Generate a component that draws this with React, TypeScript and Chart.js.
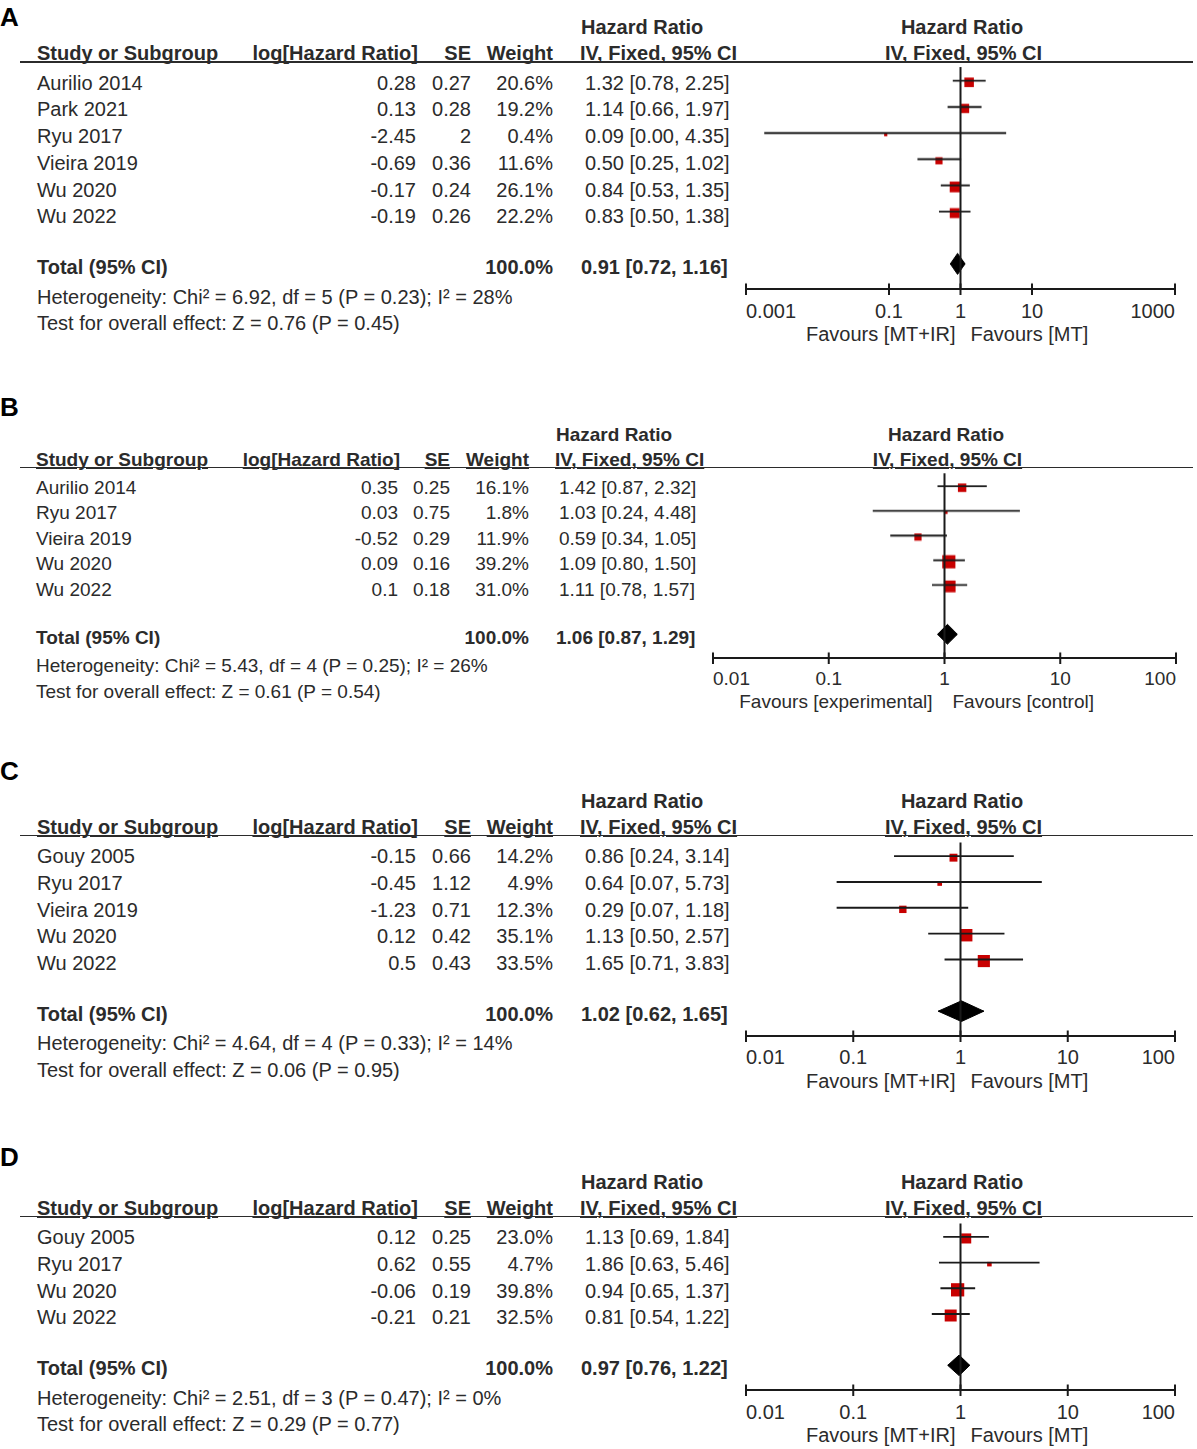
import React, { useEffect, useRef, useState } from "react";
import { Chart, registerables } from "chart.js";
Chart.register(...registerables);

const FONT = '"Liberation Sans", Arial, Helvetica, sans-serif';
const TXT = "#2b2b2b";
const LINE = "#1a1a1a";
const RED = "#c80000";

// ---------------- Panel A ----------------
const studiesA = ["Aurilio 2014", "Park 2021", "Ryu 2017", "Vieira 2019", "Wu 2020", "Wu 2022"];
const logHrA = [0.28, 0.13, -2.45, -0.69, -0.17, -0.19];
const seA = [0.27, 0.28, 2, 0.36, 0.24, 0.26];
const weightA = [20.6, 19.2, 0.4, 11.6, 26.1, 22.2];
const hrA = [1.32, 1.14, 0.09, 0.5, 0.84, 0.83];
const loA = [0.78, 0.66, 0.0018, 0.25, 0.53, 0.5];
const hiA = [2.25, 1.97, 4.35, 1.02, 1.35, 1.38];
const totalA = [0.91, 0.72, 1.16];
const hetA = "Heterogeneity: Chi² = 6.92, df = 5 (P = 0.23); I² = 28%";
const testA = "Test for overall effect: Z = 0.76 (P = 0.45)";
const ticksA = [0.001, 0.1, 1, 10, 1000];
const tickLabelsA = ["0.001", "0.1", "1", "10", "1000"];
const favoursA = ["Favours [MT+IR]", "Favours [MT]"];

// ---------------- Panel B ----------------
const studiesB = ["Aurilio 2014", "Ryu 2017", "Vieira 2019", "Wu 2020", "Wu 2022"];
const logHrB = [0.35, 0.03, -0.52, 0.09, 0.1];
const seB = [0.25, 0.75, 0.29, 0.16, 0.18];
const weightB = [16.1, 1.8, 11.9, 39.2, 31.0];
const hrB = [1.42, 1.03, 0.59, 1.09, 1.11];
const loB = [0.87, 0.24, 0.34, 0.8, 0.78];
const hiB = [2.32, 4.48, 1.05, 1.5, 1.57];
const totalB = [1.06, 0.87, 1.29];
const hetB = "Heterogeneity: Chi² = 5.43, df = 4 (P = 0.25); I² = 26%";
const testB = "Test for overall effect: Z = 0.61 (P = 0.54)";
const ticksB = [0.01, 0.1, 1, 10, 100];
const tickLabelsB = ["0.01", "0.1", "1", "10", "100"];
const favoursB = ["Favours [experimental]", "Favours [control]"];

// ---------------- Panel C ----------------
const studiesC = ["Gouy 2005", "Ryu 2017", "Vieira 2019", "Wu 2020", "Wu 2022"];
const logHrC = [-0.15, -0.45, -1.23, 0.12, 0.5];
const seC = [0.66, 1.12, 0.71, 0.42, 0.43];
const weightC = [14.2, 4.9, 12.3, 35.1, 33.5];
const hrC = [0.86, 0.64, 0.29, 1.13, 1.65];
const loC = [0.24, 0.07, 0.07, 0.5, 0.71];
const hiC = [3.14, 5.73, 1.18, 2.57, 3.83];
const totalC = [1.02, 0.62, 1.65];
const hetC = "Heterogeneity: Chi² = 4.64, df = 4 (P = 0.33); I² = 14%";
const testC = "Test for overall effect: Z = 0.06 (P = 0.95)";
const ticksC = [0.01, 0.1, 1, 10, 100];
const tickLabelsC = ["0.01", "0.1", "1", "10", "100"];
const favoursC = ["Favours [MT+IR]", "Favours [MT]"];

// ---------------- Panel D ----------------
const studiesD = ["Gouy 2005", "Ryu 2017", "Wu 2020", "Wu 2022"];
const logHrD = [0.12, 0.62, -0.06, -0.21];
const seD = [0.25, 0.55, 0.19, 0.21];
const weightD = [23.0, 4.7, 39.8, 32.5];
const hrD = [1.13, 1.86, 0.94, 0.81];
const loD = [0.69, 0.63, 0.65, 0.54];
const hiD = [1.84, 5.46, 1.37, 1.22];
const totalD = [0.97, 0.76, 1.22];
const hetD = "Heterogeneity: Chi² = 2.51, df = 3 (P = 0.47); I² = 0%";
const testD = "Test for overall effect: Z = 0.29 (P = 0.77)";
const ticksD = [0.01, 0.1, 1, 10, 100];
const tickLabelsD = ["0.01", "0.1", "1", "10", "100"];
const favoursD = ["Favours [MT+IR]", "Favours [MT]"];

// ---------------- layout (positions / styles only) ----------------
type Layout = {
  study: number; logHr: number; se: number; weight: number; ci: number; ciBold: number; ciHead: number;
  axisL: number; axisR: number; favGapL: number; favGapR: number; lineL: number; lineR: number;
  fs: number; rowH: number;
};
const layoutACD: Layout = {
  study: 37, logHr: 416, se: 471, weight: 553, ci: 585, ciBold: 581, ciHead: 580,
  axisL: 746, axisR: 1175, favGapL: 5, favGapR: 10, lineL: 20, lineR: 1193, fs: 20, rowH: 26.75,
};
const layoutB: Layout = {
  study: 36, logHr: 398, se: 450, weight: 529, ci: 559, ciBold: 556, ciHead: 555,
  axisL: 713, axisR: 1176, favGapL: 12, favGapR: 8, lineL: 20, lineR: 1193, fs: 19, rowH: 25.5,
};

function T(props: { x: number; y: number; fs: number; text: string; align?: "left" | "right" | "center"; bold?: boolean; color?: string; underline?: boolean }) {
  const { x, y, fs, text, align = "left", bold = false, color = TXT, underline = false } = props;
  const tx = align === "right" ? "translateX(-100%)" : align === "center" ? "translateX(-50%)" : undefined;
  return (
    <div
      style={{
        position: "absolute",
        left: x,
        top: y - 0.4885 * fs,
        fontSize: fs,
        lineHeight: fs + "px",
        fontWeight: bold ? 700 : 400,
        whiteSpace: "nowrap",
        transform: tx,
        color,
        fontFamily: FONT,
        textDecoration: underline ? "underline" : undefined,
        textDecorationThickness: underline ? "1.5px" : undefined,
      }}
    >
      {text}
    </div>
  );
}

const axisPlugin = {
  id: "forestAxis",
  afterDatasetsDraw(chart: any, _args: any, opts: any) {
    const xs = chart.scales.x;
    const ctx = chart.ctx;
    const y = chart.chartArea.bottom;
    ctx.save();
    ctx.strokeStyle = LINE;
    ctx.lineWidth = 2;
    ctx.beginPath();
    ctx.moveTo(xs.getPixelForValue(opts.min), y);
    ctx.lineTo(xs.getPixelForValue(opts.max), y);
    ctx.stroke();
    (opts.ticks as number[]).forEach((v) => {
      const x = xs.getPixelForValue(v);
      ctx.beginPath();
      ctx.moveTo(x, y - 5.5);
      ctx.lineTo(x, y + 6);
      ctx.stroke();
    });
    ctx.restore();
  },
};

type PanelProps = {
  letter: string; letterY: number; row0: number; L: Layout;
  studies: string[]; logHr: number[]; se: number[]; weight: number[]; hr: number[]; lo: number[]; hi: number[];
  total: number[]; het: string; test: string; ticks: number[]; tickLabels: string[]; favours: string[];
};

function fmtCI(h: number, l: number, u: number) {
  return `${h.toFixed(2)} [${l.toFixed(2)}, ${u.toFixed(2)}]`;
}

function Panel(p: PanelProps) {
  const { L } = p;
  const k = L.rowH / 26.75;
  const n = p.studies.length;
  const lineY = p.row0 - 20.5 * k;
  const plotRow0 = p.row0 - 6.5 * k;
  const yMin = (lineY - plotRow0) / L.rowH;
  const yMax = n + 1.96;
  const axisY = plotRow0 + yMax * L.rowH;
  const PAD = 14;
  const PADT = 2;
  const PADB = 10;
  const canvasLeft = L.axisL - PAD;
  const canvasTop = lineY - PADT;
  const cw = L.axisR - L.axisL + 2 * PAD;
  const ch = axisY - lineY + PADT + PADB;
  const xMin = p.ticks[0];
  const xMax = p.ticks[p.ticks.length - 1];

  const ref = useRef<HTMLCanvasElement | null>(null);
  const [pos, setPos] = useState<{ ticks: number[]; one: number } | null>(null);

  useEffect(() => {
    if (!ref.current) return;
    const yD = n + 1;
    const dh = 0.4;
    const seam = 0.03;
    const datasets: any[] = [];
    datasets.push({
      data: [{ x: 1, y: yMin }, { x: 1, y: yMax }],
      borderColor: LINE, borderWidth: 2, pointRadius: 0, fill: false,
    });
    p.studies.forEach((_s, i) => {
      datasets.push({
        data: [{ x: p.lo[i], y: i }, { x: p.hi[i], y: i }],
        borderColor: LINE, borderWidth: 1.9, pointRadius: 0, fill: false,
      });
    });
    datasets.push({
      data: p.hr.map((h, i) => ({ x: h, y: i + 0.06 })),
      showLine: false,
      pointStyle: "rect",
      pointRadius: p.weight.map((w) => Math.max(3.2, 2.1 * Math.sqrt(w)) / Math.SQRT2),
      pointBackgroundColor: RED,
      pointBorderWidth: 0,
      fill: false,
    });
    const [est, tlo, thi] = p.total;
    datasets.push({
      data: [{ x: tlo, y: yD }, { x: est, y: yD - dh }, { x: thi, y: yD }],
      borderColor: "#000", borderWidth: 1, backgroundColor: "#000", pointRadius: 0, fill: { value: yD + seam },
    });
    datasets.push({
      data: [{ x: tlo, y: yD }, { x: est, y: yD + dh }, { x: thi, y: yD }],
      borderColor: "#000", borderWidth: 1, backgroundColor: "#000", pointRadius: 0, fill: { value: yD - seam },
    });

    const chart = new Chart(ref.current, {
      type: "line",
      data: { datasets },
      plugins: [axisPlugin],
      options: {
        animation: false,
        responsive: false,
        events: [],
        layout: { padding: { left: PAD, right: PAD, top: PADT, bottom: PADB } },
        elements: { line: { tension: 0 } },
        datasets: { line: { clip: false } as any },
        scales: {
          x: { type: "logarithmic", min: xMin, max: xMax, display: false },
          y: { type: "linear", min: yMin, max: yMax, reverse: true, display: false },
        },
        plugins: {
          legend: { display: false },
          tooltip: { enabled: false },
          forestAxis: { ticks: p.ticks, min: xMin, max: xMax },
        } as any,
      },
    } as any);
    const xs: any = chart.scales.x;
    setPos({
      ticks: p.ticks.map((v) => xs.getPixelForValue(v) + canvasLeft),
      one: xs.getPixelForValue(1) + canvasLeft,
    });
    return () => chart.destroy();
  }, []);

  const fs = L.fs;
  const rowY = (r: number) => p.row0 + r * L.rowH;
  const colHeadY = lineY - 9 * k;
  const hrHeadY = lineY - 35 * k;
  const plotMid = (L.axisL + L.axisR) / 2 + 1.5;
  const tickY = axisY + 21.5 * k;
  const favY = axisY + 45 * k;

  return (
    <>
      <T x={0} y={p.letterY} fs={26} text={p.letter} bold color="#000" />
      <T x={L.ciHead + 1} y={hrHeadY} fs={fs} text="Hazard Ratio" bold />
      <T x={plotMid} y={hrHeadY} fs={fs} text="Hazard Ratio" bold align="center" />
      <T x={L.study} y={colHeadY} fs={fs} text="Study or Subgroup" bold underline />
      <T x={L.logHr + 2} y={colHeadY} fs={fs} text="log[Hazard Ratio]" bold align="right" underline />
      <T x={L.se} y={colHeadY} fs={fs} text="SE" bold align="right" underline />
      <T x={L.weight} y={colHeadY} fs={fs} text="Weight" bold align="right" underline />
      <T x={L.ciHead} y={colHeadY} fs={fs} text="IV, Fixed, 95% CI" bold underline />
      <T x={plotMid + 1.5} y={colHeadY} fs={fs} text="IV, Fixed, 95% CI" bold align="center" underline />
      <div style={{ position: "absolute", left: L.lineL, top: lineY - 0.75, width: L.lineR - L.lineL, height: 1.6, background: "#2b2b2b" }} />
      {p.studies.map((s, i) => (
        <React.Fragment key={s + i}>
          <T x={L.study} y={rowY(i)} fs={fs} text={s} />
          <T x={L.logHr} y={rowY(i)} fs={fs} text={String(p.logHr[i])} align="right" />
          <T x={L.se} y={rowY(i)} fs={fs} text={String(p.se[i])} align="right" />
          <T x={L.weight} y={rowY(i)} fs={fs} text={p.weight[i].toFixed(1) + "%"} align="right" />
          <T x={L.ci} y={rowY(i)} fs={fs} text={fmtCI(p.hr[i], p.lo[i], p.hi[i])} />
        </React.Fragment>
      ))}
      <T x={L.study} y={rowY(n + 0.9)} fs={fs} text="Total (95% CI)" bold />
      <T x={L.weight} y={rowY(n + 0.9)} fs={fs} text="100.0%" bold align="right" />
      <T x={L.ciBold} y={rowY(n + 0.9)} fs={fs} text={fmtCI(p.total[0], p.total[1], p.total[2])} bold />
      <T x={L.study} y={rowY(n + 2)} fs={fs} text={p.het} />
      <T x={L.study} y={rowY(n + 3)} fs={fs} text={p.test} />
      <canvas
        ref={ref}
        width={cw}
        height={ch}
        style={{ position: "absolute", left: canvasLeft, top: canvasTop, width: cw, height: ch }}
      />
      {pos &&
        p.tickLabels.map((t, i) => (
          <T
            key={t}
            x={pos.ticks[i]}
            y={tickY}
            fs={fs}
            text={t}
            align={i === 0 ? "left" : i === p.tickLabels.length - 1 ? "right" : "center"}
          />
        ))}
      {pos && (
        <>
          <T x={pos.one - L.favGapL} y={favY} fs={fs} text={p.favours[0]} align="right" />
          <T x={pos.one + L.favGapR} y={favY} fs={fs} text={p.favours[1]} />
        </>
      )}
    </>
  );
}

export default function App() {
  return (
    <div
      style={{
        position: "absolute", left: 0, top: 0, width: 1197, height: 1449,
        background: "#fff", overflow: "hidden", fontFamily: FONT,
      }}
    >
      <Panel letter="A" letterY={16.5} row0={82.5} L={layoutACD}
        studies={studiesA} logHr={logHrA} se={seA} weight={weightA} hr={hrA} lo={loA} hi={hiA}
        total={totalA} het={hetA} test={testA} ticks={ticksA} tickLabels={tickLabelsA} favours={favoursA} />
      <Panel letter="B" letterY={406.5} row0={487} L={layoutB}
        studies={studiesB} logHr={logHrB} se={seB} weight={weightB} hr={hrB} lo={loB} hi={hiB}
        total={totalB} het={hetB} test={testB} ticks={ticksB} tickLabels={tickLabelsB} favours={favoursB} />
      <Panel letter="C" letterY={771} row0={856} L={layoutACD}
        studies={studiesC} logHr={logHrC} se={seC} weight={weightC} hr={hrC} lo={loC} hi={hiC}
        total={totalC} het={hetC} test={testC} ticks={ticksC} tickLabels={tickLabelsC} favours={favoursC} />
      <Panel letter="D" letterY={1157} row0={1237} L={layoutACD}
        studies={studiesD} logHr={logHrD} se={seD} weight={weightD} hr={hrD} lo={loD} hi={hiD}
        total={totalD} het={hetD} test={testD} ticks={ticksD} tickLabels={tickLabelsD} favours={favoursD} />
    </div>
  );
}
